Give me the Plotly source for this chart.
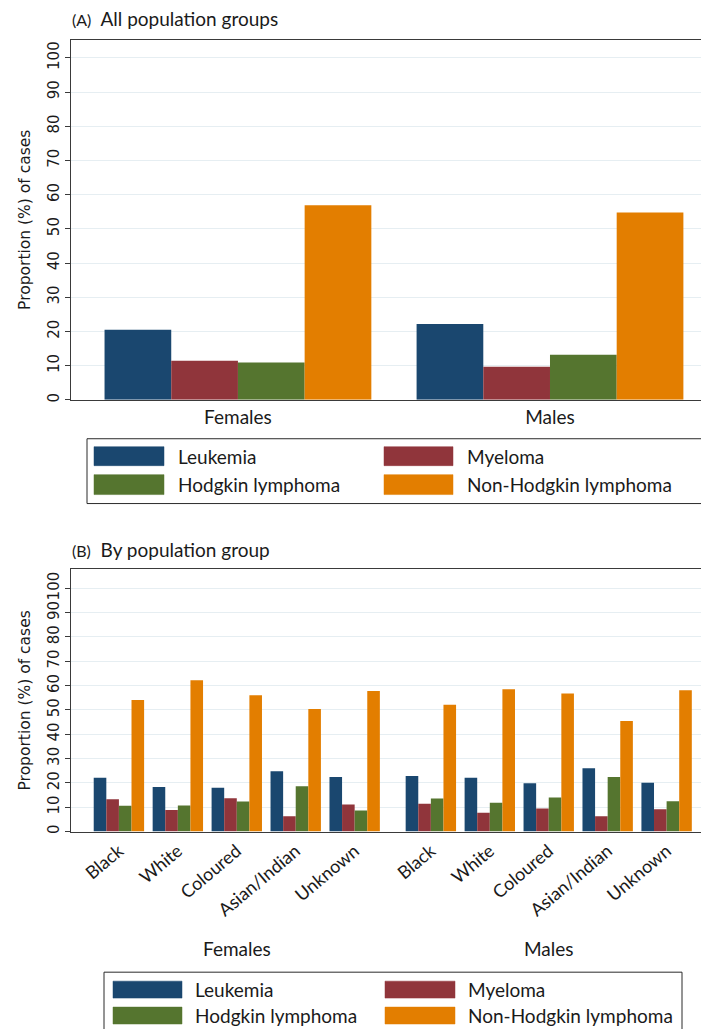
import plotly.graph_objects as go

W, H = 709, 1029

diseases = ["Leukemia", "Myeloma", "Hodgkin lymphoma", "Non-Hodgkin lymphoma"]
colors = ["#1a476f", "#90353b", "#55752f", "#e37e00"]
sexes = ["Females", "Males"]

# (A) all population groups, Females / Males
all_leukemia = [20.5, 22.2]
all_myeloma = [11.4, 9.7]
all_hodgkin = [10.9, 13.2]
all_nhl = [56.9, 54.8]

# (B) by population group
groups = ["Black", "White", "Coloured", "Asian/Indian", "Unknown"]
fem_leukemia = [22.1, 18.3, 18.0, 24.8, 22.4]
fem_myeloma = [13.3, 8.9, 13.7, 6.3, 11.1]
fem_hodgkin = [10.6, 10.7, 12.4, 18.6, 8.7]
fem_nhl = [54.1, 62.2, 56.0, 50.4, 57.8]
male_leukemia = [22.9, 22.1, 19.9, 26.0, 20.1]
male_myeloma = [11.4, 7.7, 9.5, 6.3, 9.2]
male_hodgkin = [13.6, 11.9, 14.0, 22.4, 12.5]
male_nhl = [52.1, 58.5, 56.8, 45.5, 58.1]

yticks = list(range(0, 101, 10))

TXT = "Lato"
NUM = "DejaVu Sans"


def px(x):
    return x / W


def py(y):
    return 1 - y / H


# numeric slots for panel B: 5 groups per sex, extra gap between sexes
sex_gap = 0.293
pos_f = [i for i in range(len(groups))]
pos_m = [i + len(groups) + sex_gap for i in range(len(groups))]
pos_b = pos_f + pos_m

fig = go.Figure()

a_series = [all_leukemia, all_myeloma, all_hodgkin, all_nhl]
b_series = [fem_leukemia + male_leukemia, fem_myeloma + male_myeloma,
            fem_hodgkin + male_hodgkin, fem_nhl + male_nhl]

for name, col, vals in zip(diseases, colors, a_series):
    fig.add_trace(go.Bar(x=sexes, y=vals, name=name, marker_color=col,
                         marker_line_width=0, showlegend=False,
                         xaxis="x", yaxis="y"))

for name, col, vals in zip(diseases, colors, b_series):
    fig.add_trace(go.Bar(x=pos_b, y=vals, name=name, marker_color=col,
                         marker_line_width=0, showlegend=False,
                         xaxis="x2", yaxis="y2"))

frame = dict(showline=True, linecolor="#3a3a3a", linewidth=1, mirror=True)
yax = dict(frame, tickvals=yticks, ticks="outside", ticklen=5, tickcolor="#3a3a3a",
           tickangle=-90, tickfont=dict(family=NUM, size=15, color="#1a1a1a"),
           showgrid=True, gridcolor="#e6eef2", gridwidth=1, zeroline=False)

fig.update_layout(
    width=W, height=H,
    margin=dict(l=0, r=0, t=0, b=0),
    paper_bgcolor="white", plot_bgcolor="white",
    barmode="group", bargap=0.145, bargroupgap=0,
    showlegend=False,
    xaxis=dict(frame, domain=[px(63), px(708)], anchor="y", range=[-0.535, 1.532],
               ticks="", showgrid=False, ticklabelstandoff=0,
               tickfont=dict(family=TXT, size=19, color="#1a1a1a")),
    yaxis=dict(yax, domain=[py(393), py(32)], anchor="x", range=[0, 105.25]),
    xaxis2=dict(frame, domain=[px(63), px(708)], anchor="y2", range=[-0.813, 10.131],
                tickvals=pos_b, ticktext=groups + groups, tickangle=-40,
                ticks="", showgrid=False, ticklabelstandoff=1,
                tickfont=dict(family=TXT, size=18, color="#1a1a1a")),
    yaxis2=dict(yax, domain=[py(826), py(563)], anchor="x2", range=[0, 107.8]),
)

# panel titles
fig.add_annotation(x=px(62), y=py(11), xref="paper", yref="paper", xanchor="left",
                   yanchor="middle", showarrow=False,
                   text="<span style='font-size:16px'>(A)</span>  All population groups",
                   font=dict(family=TXT, size=19, color="#1a1a1a"))
fig.add_annotation(x=px(62), y=py(543), xref="paper", yref="paper", xanchor="left",
                   yanchor="middle", showarrow=False,
                   text="<span style='font-size:16px'>(B)</span>  By population group",
                   font=dict(family=TXT, size=19, color="#1a1a1a"))

# y axis titles
for yc in [(32 + 393) / 2, (563 + 826) / 2]:
    fig.add_annotation(x=px(17), y=py(yc), xref="paper", yref="paper", textangle=-90,
                       xanchor="center", yanchor="middle",
                       showarrow=False, text="Proportion (%) of cases",
                       font=dict(family=NUM, size=15.5, color="#1a1a1a"))

# sex labels under panel B
for sx, xs in zip(sexes, [pos_f, pos_m]):
    fig.add_annotation(x=(xs[0] + xs[-1]) / 2, y=py(943), xref="x2", yref="paper",
                       showarrow=False, text=sx, xanchor="center", yanchor="middle",
                       font=dict(family=TXT, size=19, color="#1a1a1a"))


def add_key(box, col_sw, col_txt, rows):
    x0, y0, x1, y1 = box
    fig.add_shape(type="rect", xref="paper", yref="paper", x0=px(x0), x1=px(x1),
                  y0=py(y1), y1=py(y0), line=dict(color="#2a2a2a", width=1),
                  fillcolor="white")
    for k, (name, col) in enumerate(zip(diseases, colors)):
        r, c = divmod(k, 2)
        sx0, sx1 = col_sw[c]
        ry0, ry1 = rows[r]
        fig.add_shape(type="rect", xref="paper", yref="paper", x0=px(sx0), x1=px(sx1),
                      y0=py(ry1), y1=py(ry0), fillcolor=col,
                      line=dict(color=col, width=0.5))
        fig.add_annotation(x=px(col_txt[c]), y=py((ry0 + ry1) / 2), xref="paper",
                           yref="paper", xanchor="left", yanchor="middle",
                           showarrow=False, text=name,
                           font=dict(family=TXT, size=19, color="#1a1a1a"))


add_key((79, 432, 694, 497), [(86, 156), (376, 445)], [168, 457],
        [(440, 459), (468, 488)])
add_key((96, 967, 674, 1027), [(105, 174), (377, 447)], [185, 458],
        [(976, 993), (1002, 1019)])

fig.write_html("out.html")
